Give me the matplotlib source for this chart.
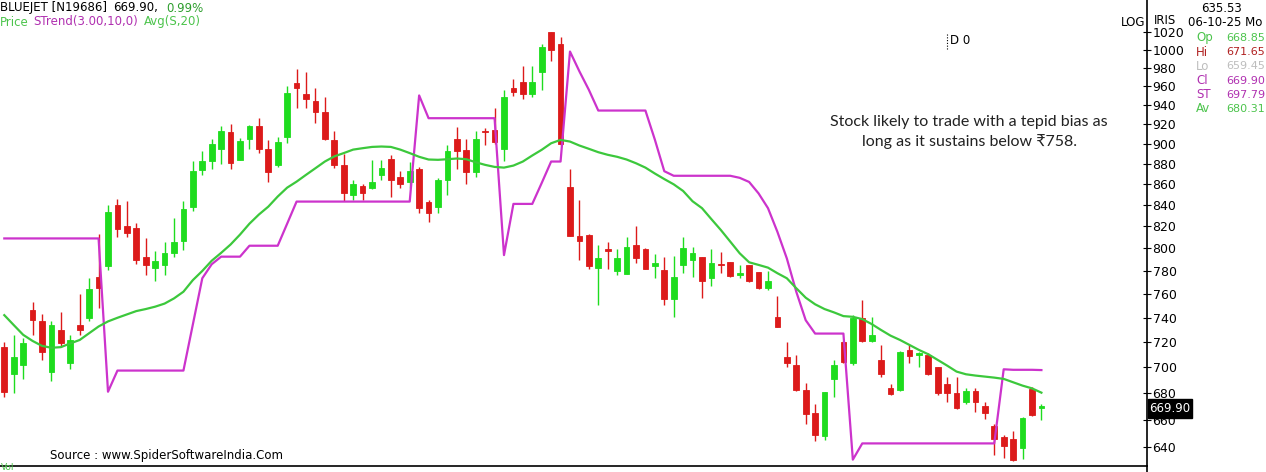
import matplotlib
matplotlib.use("Agg")
import matplotlib.pyplot as plt
import numpy as np
from matplotlib.patches import Rectangle
from matplotlib.lines import Line2D
from matplotlib.ticker import NullLocator

W, H = 1266, 472

# daily candles (oldest first)
opens = [716, 694.5, 702, 746.5, 737, 696, 730, 703, 734, 739.5,
         775, 784, 840, 820, 819, 792, 783, 785, 795.5, 807,
         838, 874, 883, 895, 911.5, 884, 905, 918, 895, 879,
         907, 963, 951, 944, 932, 904, 879, 849, 858, 856,
         869, 885, 867, 862, 875, 843, 838, 864, 905, 894,
         872, 913, 914, 895, 958, 964, 952, 975, 1020, 1007,
         857, 811.5, 812, 783, 799.5, 780, 777, 803, 799.5, 784,
         781, 756, 785, 790, 792, 774, 786, 787.5, 776.5, 785,
         779, 765.5, 741, 708.5, 702, 682, 665, 648, 691, 720,
         703, 739.5, 721, 706, 684, 682, 714, 710, 710, 700,
         687, 680, 673, 681.5, 670.5, 655, 647, 646, 639, 683,
         668.85]
highs = [720, 726, 723, 753.5, 743, 737, 744.5, 726, 760, 773.5,
         813, 840, 846, 844, 823.5, 809, 797.5, 805.5, 828, 844,
         882.5, 893, 905, 918, 920, 906, 919, 926, 904, 907,
         960, 979, 975.5, 957.5, 948, 913, 889, 864, 860.5, 884,
         884, 888, 873, 882, 877, 845, 866, 899, 917, 905,
         913, 915.5, 937, 955.5, 967.5, 982, 982, 1006, 1020.5, 1014,
         875, 845, 813, 803, 806, 799.5, 810.5, 820.5, 800.5, 795,
         792.5, 793.5, 810, 801.5, 792.5, 799.5, 797, 788, 785, 785.5,
         779.5, 780, 758, 720, 710, 687.5, 671.5, 681, 706, 721,
         742, 755, 741, 718, 687, 713, 718, 712.5, 711, 700.5,
         692, 692, 683.5, 684, 673.5, 657, 649, 651.5, 662, 685,
         671.65]
lows = [677, 680, 691, 726, 706, 689, 716, 699, 726, 737,
        748, 781, 810, 810.5, 786, 776.5, 771, 776.5, 792.5, 798.5,
        834.5, 869, 875, 880, 875, 884, 895, 890, 861.5, 877,
        901, 936.5, 937, 921, 904, 875.5, 844, 845, 845, 855,
        864, 848, 856.5, 856.5, 832, 824, 832, 849.5, 875, 860,
        867, 899, 900, 883, 949, 946, 948, 955.5, 987, 899,
        811, 790, 782, 751, 782, 776.5, 777, 787, 782, 773.5,
        751, 741, 778, 775, 757, 767, 778, 775, 774, 770.5,
        764, 763.5, 732, 700, 681.5, 657, 644, 645, 677, 703,
        702, 720, 720, 692, 678.5, 681.5, 703, 700.5, 694, 678.5,
        673, 668, 672, 666, 660.5, 634, 632, 630, 631.5, 663,
        659.45]
closes = [681, 708, 719, 738, 712, 734, 719, 722, 730, 764,
          765.5, 833, 818, 813.5, 790, 785, 789, 795.5, 805.5, 836,
          873, 883, 900, 913, 881, 903, 918, 895, 872, 902,
          953, 957.5, 946, 932, 905, 879, 851, 860, 851, 862,
          876, 864, 860, 873, 837.5, 832, 864, 892, 892, 871.5,
          905, 911.5, 902, 948, 954, 951, 964, 1003, 1000, 900,
          811.5, 807, 784, 791, 798, 791, 801.5, 791, 782, 787,
          756, 774.5, 800.5, 795.5, 771, 787, 785, 776, 778, 771,
          765.5, 771, 732, 703, 682, 664, 649, 680.5, 702, 704,
          739.5, 721, 726, 695, 679, 712, 709, 711, 694.5, 680,
          680, 669, 681.5, 673.5, 665, 646, 641, 631, 661.5, 663.5,
          669.90]

# SuperTrend(3,10) and 20-day simple average
strend = [809, 809, 809, 809, 809, 809, 809, 809, 809, 809,
          809, 681, 697.4, 697.4, 697.4, 697.4, 697.4, 697.4, 697.4, 697.4,
          734.5, 773.6, 785.9, 792.6, 792.6, 792.6, 802.4, 802.4, 802.4, 802.4,
          822.5, 843.2, 843.2, 843.2, 843.2, 843.2, 843.2, 843.2, 843.2, 843.2,
          843.2, 843.2, 843.2, 843.2, 950, 926, 926, 926, 926, 926,
          926, 926, 926, 794, 841, 841, 841, 861, 882, 882,
          998, 976, 956, 934, 934, 934, 934, 934, 934, 904,
          872.5, 868, 868, 868, 868, 868, 868, 868, 866, 862,
          851, 837, 815, 791, 762, 738, 727, 727, 727, 727,
          631, 642.6, 642.6, 642.6, 642.6, 642.6, 642.6, 642.6, 642.6, 642.6,
          642.6, 642.6, 642.6, 642.6, 642.6, 642.6, 698.4, 698, 698, 698,
          697.79]
avg20 = [742.2, 734, 726, 721, 717, 715.5, 716, 719, 721.8, 727.3,
         732.8, 737, 740, 742.8, 745.6, 747.3, 749.3, 751.9, 756.3, 762,
         772, 780, 789, 796, 803.5, 812.5, 822.5, 831, 838.4, 848,
         856.5, 862.3, 868.9, 875.4, 882, 887.1, 890.4, 893.9, 895.3, 896.6,
         897, 896.6, 893.9, 890.4, 886.7, 884, 883.7, 884.3, 885, 884.3,
         881.3, 878.7, 876.7, 876, 878, 882, 888, 893.7, 900.3, 903.7,
         902, 898, 894.7, 891.3, 888.7, 886.7, 884, 880.3, 876, 870.2,
         864.8, 859.7, 853.3, 843.5, 837, 826.7, 816.7, 806.1, 795.6, 787.6,
         785.3, 782.9, 778, 773.6, 765, 756.9, 751.3, 747.3, 744.5, 741.4,
         740.8, 738.9, 734.8, 729.9, 725.3, 721.8, 717.8, 713.8, 710.3, 705.8,
         701.3, 696.6, 694.5, 693.5, 692.7, 691.9, 690.9, 688.3, 685.7, 683.6,
         680.31]

yticks = [640, 660, 680, 700, 720, 740, 760, 780, 800, 820,
          840, 860, 880, 900, 920, 940, 960, 980, 1000, 1020]

info_labels = ["Op", "Hi", "Lo", "Cl", "ST", "Av"]
info_values = ["668.85", "671.65", "659.45", "669.90", "697.79", "680.31"]
info_colors = ["#4cc44c", "#b02020", "#bdbdbd", "#b030b0", "#b030b0", "#4cc44c"]

GREEN = "#1edc1e"
RED = "#dc1a1a"
MAGENTA = "#cc33cc"
AVG_GREEN = "#3cc83c"
UI_FONT = "DejaVu Sans"


def fx(px):
    return px / W


def fy(py):
    return 1 - py / H


fig = plt.figure(figsize=(W / 100, H / 100), dpi=100)
ax = fig.add_axes([0, fy(466), fx(1147), (466) / H])

o = np.array(opens)
hi = np.array(highs)
lo = np.array(lows)
c = np.array(closes)
x = np.arange(len(c))
cols = np.where(c >= o, GREEN, RED)

ax.vlines(x, lo, hi, colors=cols, lw=1.0, zorder=2)
ax.bar(x, np.abs(c - o), bottom=np.minimum(o, c), width=0.6,
       color=cols, edgecolor=cols, linewidth=0.6, zorder=3)
ax.plot(x, strend, color=MAGENTA, lw=1.6, zorder=4)
ax.plot(x, avg20, color=AVG_GREEN, lw=1.6, zorder=5)

ax.set_yscale("log")
ax.set_ylim(626.5, 1057.5)
ax.set_xlim(-0.456, 121.2)
ax.yaxis.tick_right()
ax.set_yticks(yticks)
ax.set_yticklabels([str(v) for v in yticks])
ax.yaxis.set_minor_locator(NullLocator())
ax.tick_params(axis="y", direction="inout", length=6, width=0.8, pad=1,
               labelsize=9, colors="black")
ax.set_xticks([])
for side in ["top", "left"]:
    ax.spines[side].set_visible(False)
for side in ["right", "bottom"]:
    ax.spines[side].set_linewidth(1.2)
fig.add_artist(Line2D([fx(1147), fx(1147)], [fy(466), 0], color="black",
                      lw=1.2, transform=fig.transFigure))

# header
fig.text(fx(0), fy(8), "BLUEJET [N19686]", fontsize=8.5, family=UI_FONT, va="center")
fig.text(fx(113), fy(8), "669.90,", fontsize=8.5, family=UI_FONT, va="center")
fig.text(fx(166), fy(8), "0.99%", fontsize=8.5, family=UI_FONT, va="center", color="#2e9e2e")
fig.text(fx(0), fy(22), "Price", fontsize=8.5, family=UI_FONT, va="center", color="#4cc44c")
fig.text(fx(33), fy(22), "STrend(3.00,10,0)", fontsize=8.5, family=UI_FONT, va="center", color="#b030b0")
fig.text(fx(144), fy(22), "Avg(S,20)", fontsize=8.5, family=UI_FONT, va="center", color="#4cc44c")

# right info panel
fig.text(fx(1221), fy(8), "635.53", fontsize=8.5, family=UI_FONT, va="center", ha="center")
fig.text(fx(1188), fy(22), "06-10-25 Mo", fontsize=8.5, family=UI_FONT, va="center")
fig.text(fx(1121), fy(22), "LOG", fontsize=8.5, family=UI_FONT, va="center")
fig.text(fx(1154), fy(21), "IRIS", fontsize=8.5, family=UI_FONT, va="center")
for i, (lab, val, col) in enumerate(zip(info_labels, info_values, info_colors)):
    yy = 38 + i * 14.2
    fig.text(fx(1196), fy(yy), lab, fontsize=8.5, family=UI_FONT, va="center", color=col)
    fig.text(fx(1226), fy(yy), val, fontsize=8, family=UI_FONT, va="center", color=col)

# last price tag
fig.add_artist(Rectangle((fx(1148), fy(418)), 44 / W, 19 / H, color="black",
                         transform=fig.transFigure))
fig.text(fx(1170), fy(408.5), "669.90", fontsize=8.5, family=UI_FONT,
         va="center", ha="center", color="white")

# D 0 marker
fig.add_artist(Line2D([fx(947), fx(947)], [fy(34), fy(50)], color="black",
                      lw=0.8, ls=(0, (1, 1.5)), transform=fig.transFigure))
fig.text(fx(950), fy(41), "D 0", fontsize=8.5, family=UI_FONT, va="center")

# comment
fig.text(fx(969), fy(132), "Stock likely to trade with a tepid bias as\nlong as it sustains below \u20b9758.",
         fontsize=11.5, family=["Lato", "DejaVu Sans"], ha="center", va="center",
         linespacing=1.45, color="#222222")

fig.text(fx(50), fy(455), "Source : www.SpiderSoftwareIndia.Com", fontsize=8.5,
         family=UI_FONT, va="center")
fig.text(fx(1), fy(471.5), "Vol", fontsize=6.5, family=UI_FONT, va="bottom", color="#4cc44c")

fig.savefig("out.png", dpi=100)
